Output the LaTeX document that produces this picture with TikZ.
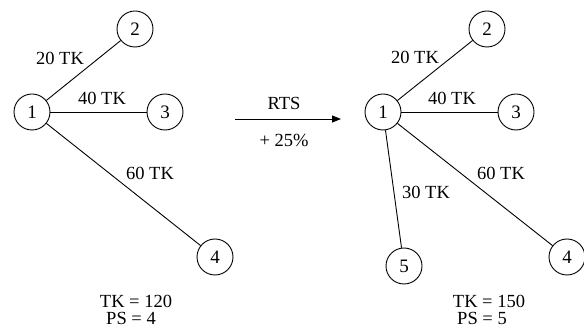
\documentclass[tikz,border=0pt]{standalone}
\usepackage{fontspec}
\setmainfont{Liberation Serif}
\usetikzlibrary{arrows.meta}
\begin{document}
\begin{tikzpicture}[x=1pt,y=-1pt,
  vert/.style={draw,circle,line width=0.9pt,minimum size=36pt,inner sep=0pt,font=\fontsize{19}{21}\selectfont},
  lbl/.style={inner sep=0pt,font=\fontsize{18.5}{20}\selectfont},
  edge/.style={line width=0.9pt}]
\useasboundingbox (0,0) rectangle (584,328);
% left graph
\node[vert] (a1) at (32,112) {1};
\node[vert] (a2) at (135,29) {2};
\node[vert] (a3) at (165,112) {3};
\node[vert] (a4) at (215,257) {4};
\draw[edge] (a1) -- (a2);
\draw[edge] (a1) -- (a3);
\draw[edge] (a1) -- (a4);
\node[lbl] (la2) at (60,58) {20 TK};
\node[lbl] (la3) at (102,98) {40 TK};
\node[lbl] (la4) at (150,173) {60 TK};
\node[lbl] (ta) at (136,301) {TK = 120};
\node[lbl] (pa) at (131,318) {PS = 4};
% arrow
\coordinate (s) at (235,119);
\coordinate (e) at (341,119);
\draw[edge,-{Triangle[length=9pt,width=7pt]}] (s) -- (e);
\node[lbl] (rts) at (284,103) {RTS};
\node[lbl] (pct) at (284,140) {+ 25\%};
% right graph
\node[vert] (b1) at (383,112) {1};
\node[vert] (b2) at (487,29) {2};
\node[vert] (b3) at (516,112) {3};
\node[vert] (b4) at (567,257) {4};
\node[vert] (b5) at (404,266) {5};
\draw[edge] (b1) -- (b2);
\draw[edge] (b1) -- (b3);
\draw[edge] (b1) -- (b4);
\draw[edge] (b1) -- (b5);
\node[lbl] (lb2) at (415,57) {20 TK};
\node[lbl] (lb3) at (452,98) {40 TK};
\node[lbl] (lb4) at (501,173) {60 TK};
\node[lbl] (lb5) at (426,192) {30 TK};
\node[lbl] (tb) at (489,301) {TK = 150};
\node[lbl] (pb) at (482,318) {PS = 5};
\end{tikzpicture}
\end{document}
